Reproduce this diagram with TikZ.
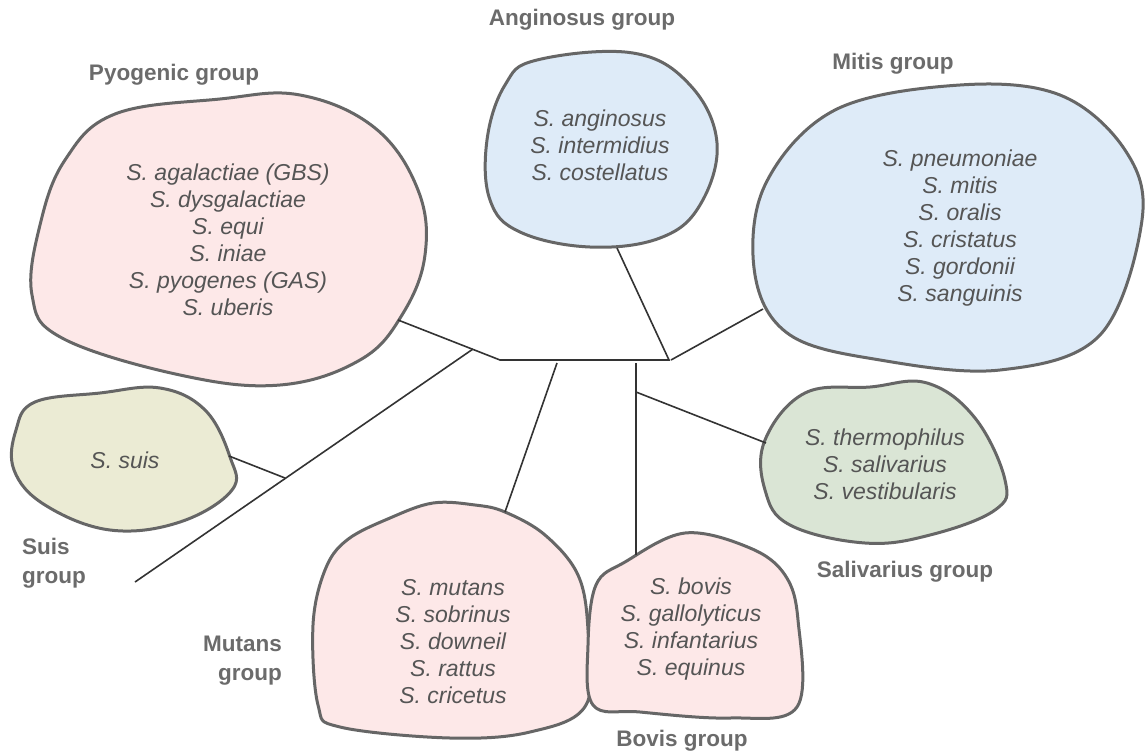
\documentclass[tikz,border=0pt]{standalone}
\usepackage{fontspec}
\setmainfont{Liberation Sans}
\begin{document}
\begin{tikzpicture}[x=1pt,y=-1pt,
  blob/.style={draw=blobline,line width=3pt,line join=round},
  species/.style={align=center,text=spec,font=\fontsize{23}{27}\selectfont\itshape,inner sep=0pt},
  grouplbl/.style={text=lbl,font=\fontsize{22.5}{29}\selectfont\bfseries,inner sep=0pt},
  edge/.style={draw=edgec,line width=1.6pt}]
\definecolor{blobline}{HTML}{666666}
\definecolor{spec}{HTML}{555555}
\definecolor{lbl}{HTML}{6B6B6B}
\definecolor{edgec}{HTML}{333333}
\definecolor{pinkf}{HTML}{FDE8E8}
\definecolor{bluef}{HTML}{DEEBF8}
\definecolor{suisf}{HTML}{EBEBD4}
\definecolor{salf}{HTML}{DAE5D5}
\useasboundingbox[fill=white] (0,0) rectangle (1145,753);

% blobs
\filldraw[blob,fill=pinkf] plot[smooth cycle,tension=0.65] coordinates {(115,114) (220,99) (300,95) (375,128) (418,190) (425,255) (402,315) (360,360) (280,385) (180,375) (62,338) (32,295) (40,225) (65,160)};

\filldraw[blob,fill=bluef] plot[smooth cycle,tension=0.65] coordinates {(537,60) (633,53) (690,85) (717,143) (700,205) (660,238) (590,247) (520,232) (490,200) (487,140) (505,85)};

\filldraw[blob,fill=bluef] plot[smooth cycle,tension=0.6] coordinates {(835,110) (960,85) (1060,95) (1125,150) (1142,220) (1100,335) (1000,370) (880,360) (790,335) (755,275) (765,185)};

\filldraw[blob,fill=suisf] plot[smooth cycle,tension=0.65] coordinates {(35,402) (100,393) (160,388) (205,410) (230,457) (232,490) (180,522) (110,530) (45,505) (14,470) (16,430)};

\filldraw[blob,fill=salf] plot[smooth cycle,tension=0.65] coordinates {(805,393) (870,387) (927,383) (975,418) (1005,480) (995,510) (930,535) (865,543) (790,525) (765,490) (765,440)};

\filldraw[blob,fill=pinkf] plot[smooth cycle,tension=0.6] coordinates {(433,503) (475,505) (505,512) (545,535) (578,575) (588,630) (586,705) (530,732) (450,738) (340,727) (318,705) (313,625) (325,570) (347,540) (390,518)};

\filldraw[blob,fill=pinkf] plot[smooth cycle,tension=0.6] coordinates {(685,533) (750,548) (785,575) (798,620) (797,707) (730,718) (640,712) (593,705) (588,645) (596,585) (625,562)};

% species text
\node[species] (pyo) at (228,240) {S. agalactiae (GBS)\\S. dysgalactiae\\S. equi\\S. iniae\\S. pyogenes (GAS)\\S. uberis};
\node[species] (ang) at (600,145) {S. anginosus\\S. intermidius\\S. costellatus};
\node[species] (mit) at (960,228) {S. pneumoniae\\S. mitis\\S. oralis\\S. cristatus\\S. gordonii\\S. sanguinis};
\node[species] (sui) at (125,460) {S. suis};
\node[species] (sal) at (885,464) {S. thermophilus\\S. salivarius\\S. vestibularis};
\node[species] (mut) at (453,642) {S. mutans\\S. sobrinus\\S. downeil\\S. rattus\\S. cricetus};
\node[species] (bov) at (691,629) {S. bovis\\S. gallolyticus\\S. infantarius\\S. equinus};

% group labels
\node[grouplbl] (lpyo) at (174,75) {Pyogenic group};
\node[grouplbl] (lang) at (582,20) {Anginosus group};
\node[grouplbl] (lmit) at (893,64) {Mitis group};
\node[grouplbl,align=left,anchor=west] (lsui) at (22,563) {Suis\\group};
\node[grouplbl,align=right,anchor=east] (lmut) at (282,661) {Mutans\\group};
\node[grouplbl] (lsal) at (905,572) {Salivarius group};
\node[grouplbl] (lbov) at (682,741) {Bovis group};

% tree coordinates
\coordinate (pyoE) at (398,320);
\coordinate (jL) at (500,360);
\coordinate (jR) at (669,360);
\coordinate (angE) at (617,248);
\coordinate (mitE) at (763,309);
\coordinate (jD) at (473,349);
\coordinate (tipS) at (135,582);
\coordinate (suiE) at (229,456);
\coordinate (jS) at (285,478);
\coordinate (jM) at (557,363);
\coordinate (mutE) at (505,512);
\coordinate (jB) at (636,363);
\coordinate (bovE) at (636,555);
\coordinate (jSa) at (636,392);
\coordinate (salE) at (766,443);

\draw[edge] (pyoE) -- (jL) -- (jR) -- (angE);
\draw[edge] (jR) ++(2,0) -- (mitE);
\draw[edge] (jD) -- (tipS);
\draw[edge] (suiE) -- (jS);
\draw[edge] (jM) -- (mutE);
\draw[edge] (jB) -- (bovE);
\draw[edge] (jSa) -- (salE);
\end{tikzpicture}
\end{document}
